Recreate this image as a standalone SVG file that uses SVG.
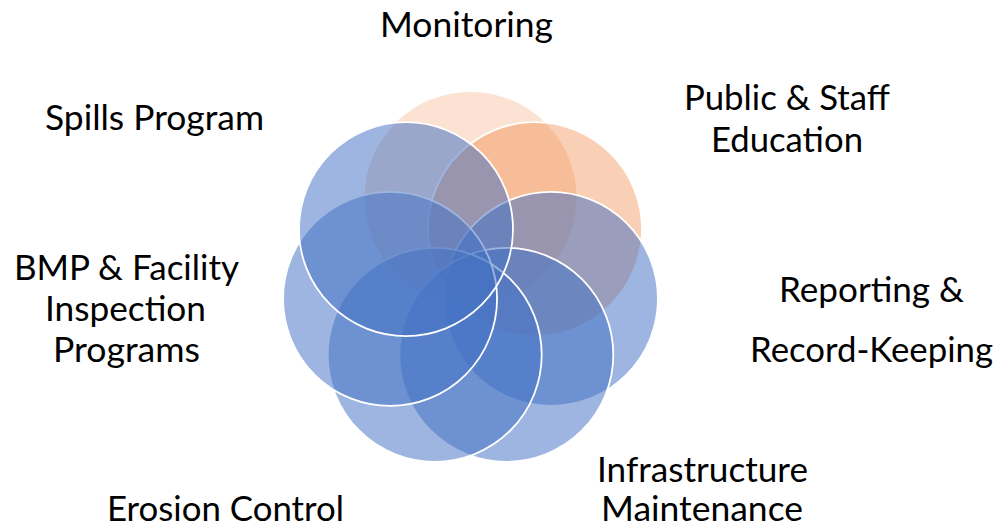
<svg xmlns="http://www.w3.org/2000/svg" width="995" height="528" viewBox="0 0 995 528">
  <style>
    .c { stroke: #ffffff; stroke-width: 1.8; }
    .blue { fill: #4472C4; fill-opacity: 0.52; }
    .or1 { fill: #ED7D31; fill-opacity: 0.22; }
    .or2 { fill: #ED7D31; fill-opacity: 0.36; }
    .t { font-family: Lato, "Open Sans", "Liberation Sans", sans-serif; font-size: 34px; fill: #000000; }
  </style>
  <rect width="995" height="528" fill="#ffffff"/>
  <g id="connectors"></g>
  <g id="monitoring">
    <circle class="c or1" cx="470.5" cy="198" r="107"/>
    <text class="t" x="380" y="37" textLength="173" lengthAdjust="spacingAndGlyphs">Monitoring</text>
  </g>
  <g id="public-staff-education">
    <circle class="c or2" cx="535" cy="229.06" r="107"/>
    <text class="t" x="684" y="110" textLength="206" lengthAdjust="spacingAndGlyphs">Public &amp; Staff</text>
    <text class="t" x="711" y="152" textLength="152" lengthAdjust="spacingAndGlyphs">Education</text>
  </g>
  <g id="reporting-record-keeping">
    <circle class="c blue" cx="550.93" cy="298.86" r="107"/>
    <text class="t" x="779" y="302" textLength="185" lengthAdjust="spacingAndGlyphs">Reporting &amp;</text>
    <text class="t" x="750" y="362" textLength="243" lengthAdjust="spacingAndGlyphs">Record-Keeping</text>
  </g>
  <g id="infrastructure-maintenance">
    <circle class="c blue" cx="506.3" cy="354.83" r="107"/>
    <text class="t" x="597" y="482" textLength="211" lengthAdjust="spacingAndGlyphs">Infrastructure</text>
    <text class="t" x="601" y="521" textLength="202" lengthAdjust="spacingAndGlyphs">Maintenance</text>
  </g>
  <g id="erosion-control">
    <circle class="c blue" cx="434.7" cy="354.83" r="107"/>
    <text class="t" x="107" y="521" textLength="237" lengthAdjust="spacingAndGlyphs">Erosion Control</text>
  </g>
  <g id="bmp-facility-inspection">
    <circle class="c blue" cx="390.07" cy="298.86" r="107"/>
    <text class="t" x="14" y="280" textLength="225" lengthAdjust="spacingAndGlyphs">BMP &amp; Facility</text>
    <text class="t" x="45" y="321" textLength="161" lengthAdjust="spacingAndGlyphs">Inspection</text>
    <text class="t" x="53" y="362" textLength="147" lengthAdjust="spacingAndGlyphs">Programs</text>
  </g>
  <g id="spills-program">
    <circle class="c blue" cx="406" cy="229.06" r="107"/>
    <text class="t" x="45" y="130" textLength="219" lengthAdjust="spacingAndGlyphs">Spills Program</text>
  </g>
</svg>
